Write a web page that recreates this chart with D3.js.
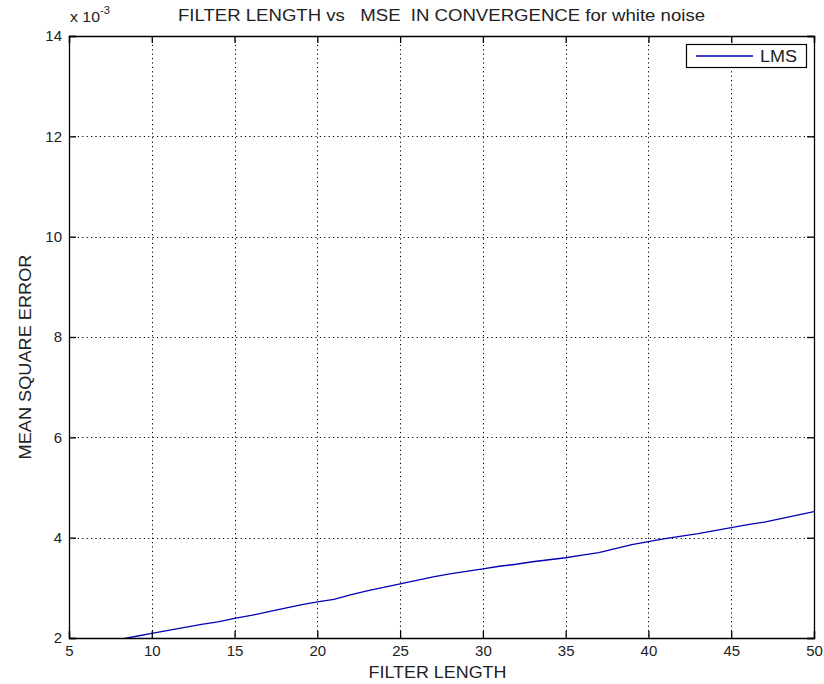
<!DOCTYPE html>
<html><head><meta charset="utf-8">
<script src="https://cdn.jsdelivr.net/npm/d3@7"></script>
<style>body{margin:0;background:#fff}svg{display:block}</style>
</head><body><svg id="c" width="824" height="684"></svg>
<script>
const filterLength = [8,9,10,11,12,13,14,15,16,17,18,19,20,21,22,23,24,25,26,27,28,29,30,31,32,33,34,35,36,37,38,39,40,41,42,43,44,45,46,47,48,49,50];
const mseLMS = [1.97,2.03,2.09,2.15,2.21,2.27,2.32,2.39,2.45,2.52,2.59,2.66,2.72,2.77,2.86,2.94,3.01,3.08,3.15,3.22,3.28,3.33,3.38,3.43,3.47,3.52,3.56,3.60,3.65,3.70,3.78,3.86,3.92,3.98,4.03,4.08,4.14,4.20,4.26,4.31,4.38,4.45,4.52];
const xTicks = [5,10,15,20,25,30,35,40,45,50];
const yTicks = [2,4,6,8,10,12,14];
const titleText = "FILTER LENGTH vs   MSE  IN CONVERGENCE for white noise";
const xLabel = "FILTER LENGTH";
const yLabel = "MEAN SQUARE ERROR";
const seriesName = "LMS";

const svg = d3.select("#c");
const L = 69, R = 814, T = 36, B = 638;
const x = d3.scaleLinear().domain([5,50]).range([L,R]);
const y = d3.scaleLinear().domain([2,14]).range([B,T]);
const font = "Arial, 'Liberation Sans', sans-serif";
const txt = "#222";

// grid
const g = svg.append("g");
g.selectAll(".vg").data(xTicks.slice(1,-1)).enter().append("line")
  .attr("x1",d=>Math.round(x(d))+0.5).attr("x2",d=>Math.round(x(d))+0.5).attr("y1",T).attr("y2",B)
  .attr("stroke","#000").attr("stroke-width",1).attr("stroke-dasharray","1.2,3.2");
g.selectAll(".hg").data(yTicks.slice(1,-1)).enter().append("line")
  .attr("y1",d=>Math.round(y(d))+0.5).attr("y2",d=>Math.round(y(d))+0.5).attr("x1",L).attr("x2",R)
  .attr("stroke","#000").attr("stroke-width",1).attr("stroke-dasharray","1.2,3.2");

// clip
svg.append("clipPath").attr("id","clip").append("rect").attr("x",L).attr("y",T).attr("width",R-L).attr("height",B-T);

const line = d3.line().x((d,i)=>x(filterLength[i])).y(d=>y(d));
svg.append("path").datum(mseLMS).attr("d",line).attr("clip-path","url(#clip)")
  .attr("fill","none").attr("stroke","#0000b4").attr("stroke-width",1.3);

// axes (inward ticks, box)
const tl = 7;
const axB = svg.append("g").attr("transform",`translate(0,${B})`).call(d3.axisBottom(x).tickValues(xTicks).tickSize(-tl).tickPadding(9));
const axT = svg.append("g").attr("transform",`translate(0,${T})`).call(d3.axisTop(x).tickValues(xTicks).tickSize(-tl).tickFormat(""));
const axL = svg.append("g").attr("transform",`translate(${L},0)`).call(d3.axisLeft(y).tickValues(yTicks).tickSize(-tl).tickPadding(7));
const axR = svg.append("g").attr("transform",`translate(${R},0)`).call(d3.axisRight(y).tickValues(yTicks).tickSize(-tl).tickFormat(""));
[axB,axT,axL,axR].forEach(a=>{
  a.select(".domain").attr("stroke","#000").attr("stroke-width",1.3);
  a.selectAll(".tick line").attr("stroke","#000").attr("stroke-width",1.3);
  a.selectAll("text").attr("font-family",font).attr("font-size",15).attr("fill",txt);
});
axB.selectAll("text").attr("dy","0.6em");

// exponent label
const ex = svg.append("text").attr("x",L+1).attr("y",22).attr("font-family",font).attr("font-size",14).attr("fill",txt);
ex.append("tspan").attr("textLength",30).attr("lengthAdjust","spacingAndGlyphs").text("x 10");
ex.append("tspan").attr("dy",-8).attr("font-size",11).text("-3");

// title
svg.append("text").attr("x",(L+R)/2).attr("y",21).attr("text-anchor","middle")
  .attr("font-family",font).attr("font-size",16).attr("fill",txt)
  .attr("textLength",527).attr("lengthAdjust","spacingAndGlyphs")
  .style("white-space","pre").text(titleText);
// x label
svg.append("text").attr("x",(L+R)/2 - 4).attr("y",678).attr("text-anchor","middle")
  .attr("font-family",font).attr("font-size",16).attr("fill",txt)
  .attr("textLength",138).attr("lengthAdjust","spacingAndGlyphs").text(xLabel);
// y label
svg.append("text").attr("transform",`translate(31,${(T+B)/2 + 20}) rotate(-90)`).attr("text-anchor","middle")
  .attr("font-family",font).attr("font-size",16).attr("fill",txt)
  .attr("textLength",205).attr("lengthAdjust","spacingAndGlyphs").text(yLabel);

// legend
const lg = svg.append("g");
lg.append("rect").attr("x",686.5).attr("y",44.5).attr("width",120).attr("height",23)
  .attr("fill","#fff").attr("stroke","#000").attr("stroke-width",1.2);
lg.append("line").attr("x1",696).attr("x2",753).attr("y1",56).attr("y2",56).attr("stroke","#0000b4").attr("stroke-width",1.3);
lg.append("text").attr("x",760).attr("y",62).attr("font-family",font).attr("font-size",16).attr("fill",txt)
  .attr("textLength",37).attr("lengthAdjust","spacingAndGlyphs").text(seriesName);
</script></body></html>
